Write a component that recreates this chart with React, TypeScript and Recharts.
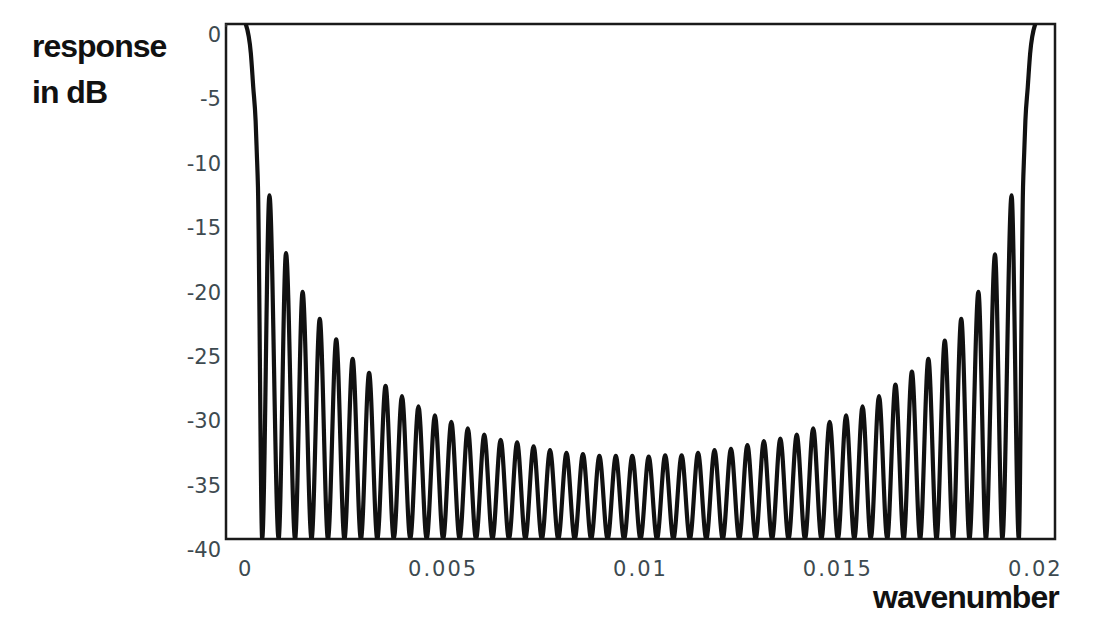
import { LineChart, Line, XAxis, YAxis, ReferenceArea } from 'recharts'

// axis ticks
const yTicks = [-40, -35, -30, -25, -20, -15, -10, -5, 0]
const xTicks = [0, 0.005, 0.01, 0.015, 0.02]
const topTicks = [
  0, 0.001, 0.002, 0.003, 0.004, 0.005, 0.006, 0.007, 0.008, 0.009, 0.01,
  0.011, 0.012, 0.013, 0.014, 0.015, 0.016, 0.017, 0.018, 0.019, 0.02,
]

// main lobes (wavenumber, dB)
const leftLobeX = [0, 0.00013, 0.00019, 0.00025, 0.00028, 0.00031]
const leftLobeDb = [0, -2.3, -4.9, -7.5, -10, -12.7]
const rightLobeX = [0.01969, 0.01972, 0.01975, 0.01981, 0.01987, 0.02]
const rightLobeDb = [-12.7, -10, -7.5, -4.9, -2.3, 0]

// nulls, clipped at the -40 dB floor
const floorDb = -40
const nullX = [
  0.000417, 0.000833, 0.00125, 0.001667, 0.002083, 0.0025, 0.002917, 0.003333,
  0.00375, 0.004167, 0.004583, 0.005, 0.005417, 0.005833, 0.00625, 0.006667,
  0.007083, 0.0075, 0.007917, 0.008333, 0.00875, 0.009167, 0.009583, 0.01,
  0.010417, 0.010833, 0.01125, 0.011667, 0.012083, 0.0125, 0.012917, 0.013333,
  0.01375, 0.014167, 0.014583, 0.015, 0.015417, 0.015833, 0.01625, 0.016667,
  0.017083, 0.0175, 0.017917, 0.018333, 0.01875, 0.019167, 0.019583,
]

// sidelobe peaks
const peakX = [
  0.0006, 0.00102, 0.00144, 0.001875, 0.002292, 0.002708, 0.003125, 0.003542,
  0.003958, 0.004375, 0.004792, 0.005208, 0.005625, 0.006042, 0.006458, 0.006875,
  0.007292, 0.007708, 0.008125, 0.008542, 0.008958, 0.009375, 0.009792, 0.010208,
  0.010625, 0.011042, 0.011458, 0.011875, 0.012292, 0.012708, 0.013125, 0.013542,
  0.013958, 0.014375, 0.014792, 0.015208, 0.015625, 0.016042, 0.016458, 0.016875,
  0.017292, 0.017708, 0.018125, 0.01856, 0.01898, 0.0194,
]
const peakDb = [
  -13.3, -17.8, -20.8, -22.9, -24.5, -26.0, -27.1, -28.1, -28.9, -29.7, -30.4, -30.9,
  -31.4, -31.9, -32.3, -32.5, -32.8, -33.1, -33.3, -33.4, -33.55, -33.55, -33.55,
  -33.6, -33.5, -33.5, -33.3, -33.1, -33.0, -32.7, -32.4, -32.2, -31.9, -31.4,
  -30.9, -30.4, -29.7, -28.9, -28.0, -27.0, -26.0, -24.6, -22.9, -20.8, -17.9, -13.3,
]

const data: { x: number; y: number }[] = []
leftLobeX.forEach((x, i) => data.push({ x, y: leftLobeDb[i] }))
nullX.forEach((x, i) => {
  data.push({ x, y: floorDb })
  if (i < peakX.length) data.push({ x: peakX[i], y: peakDb[i] })
})
rightLobeX.forEach((x, i) => data.push({ x, y: rightLobeDb[i] }))

const tickFont = 'DejaVu Sans, sans-serif'
const tickColor = '#3d4a50'
const titleStyle = {
  position: 'absolute' as const,
  fontFamily: 'Liberation Sans, Arial, sans-serif',
  fontWeight: 700,
  fontSize: 32,
  lineHeight: '32px',
  letterSpacing: -1,
  color: '#111',
  whiteSpace: 'nowrap' as const,
}

const YTick = (props: any) => (
  <text x={props.x + 3} y={props.y} dy={18} textAnchor="end" fill={tickColor} fontSize={21} fontFamily={tickFont}>
    {props.payload.value}
  </text>
)

const XTick = (props: any) => (
  <text x={props.x} y={props.y} dy={29} textAnchor="middle" fill={tickColor} fontSize={21} fontFamily={tickFont} letterSpacing={2}>
    {props.payload.value}
  </text>
)

const NoTick = () => <g />

export default function App() {
  return (
    <div style={{ position: 'absolute', left: 0, top: 0, width: 1100, height: 620, background: '#fff' }}>
      <LineChart width={1100} height={620} data={data} margin={{ top: 24, right: 45, bottom: 51, left: 146 }}>
        <XAxis
          dataKey="x"
          type="number"
          domain={[-0.0005, 0.0205]}
          ticks={xTicks}
          tick={XTick}
          tickLine={false}
          axisLine={false}
          allowDataOverflow
          height={30}
        />
        <XAxis
          xAxisId="top"
          orientation="top"
          type="number"
          domain={[-0.0005, 0.0205]}
          ticks={topTicks}
          tick={NoTick}
          mirror
          tickSize={3}
          axisLine={false}
          tickLine={{ stroke: '#333', strokeWidth: 2 }}
          allowDataOverflow
        />
        <YAxis
          type="number"
          domain={[-40, 0]}
          ticks={yTicks}
          tick={YTick}
          tickLine={false}
          axisLine={false}
          allowDataOverflow
          width={80}
        />
        <YAxis
          yAxisId="right"
          orientation="right"
          type="number"
          domain={[-40, 0]}
          ticks={yTicks}
          tick={NoTick}
          mirror
          tickSize={5}
          axisLine={false}
          tickLine={{ stroke: '#333', strokeWidth: 1.5 }}
        />
        <ReferenceArea x1={-0.0005} x2={0.0205} y1={-40} y2={0} fill="none" stroke="#1a1a1a" strokeWidth={2.5} />
        <Line
          type="monotone"
          dataKey="y"
          stroke="#111"
          strokeWidth={4.2}
          dot={false}
          isAnimationActive={false}
        />
      </LineChart>
      <div style={{ ...titleStyle, left: 32, top: 30 }}>response</div>
      <div style={{ ...titleStyle, left: 32, top: 76 }}>in dB</div>
      <div style={{ ...titleStyle, left: 873, top: 584, lineHeight: '26px' }}>wavenumber</div>
    </div>
  )
}
